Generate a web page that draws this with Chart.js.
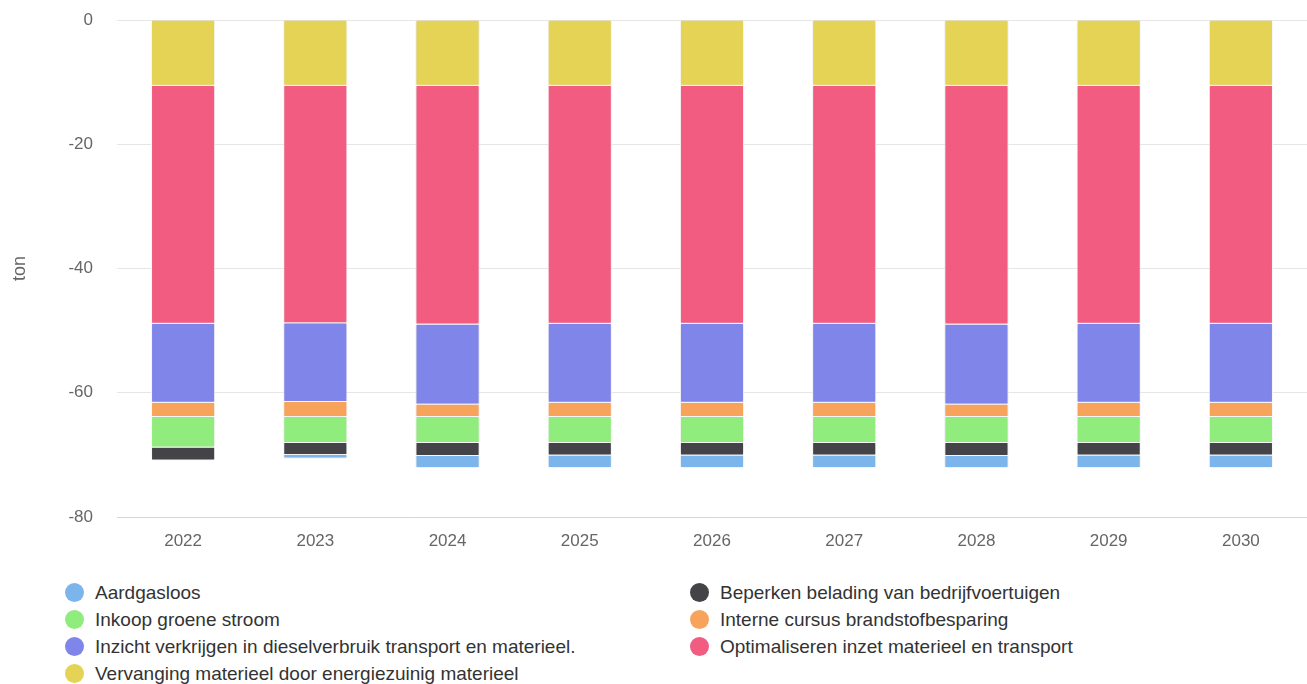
<!DOCTYPE html>
<html>
<head>
<meta charset="utf-8">
<script src="https://cdn.jsdelivr.net/npm/chart.js@4.4.1/dist/chart.umd.min.js"></script>
<style>
  html, body { margin: 0; padding: 0; background: #fff; }
  #wrap { position: relative; width: 1307px; height: 684px; overflow: hidden; }
  #box { position: absolute; left: 0; top: 0; width: 1307px; height: 561px; }
  #legenda { position: absolute; left: 65px; top: 579px; display: grid;
    grid-template-columns: 625px 600px;
    font-family: "Liberation Sans", Arial, sans-serif; font-size: 19px; color: #333; }
  .item { display: flex; align-items: center; height: 27px; white-space: nowrap; }
  .dot { width: 19px; height: 19px; border-radius: 50%; margin-right: 11px; flex: none; }
</style>
</head>
<body>
<div id="wrap">
  <div id="box"><canvas id="grafica"></canvas></div>
  <div id="legenda"></div>
</div>
<script>
const jaren = ['2022', '2023', '2024', '2025', '2026', '2027', '2028', '2029', '2030'];

// ton per maatregel (negatief = reductie)
const vervanging    = [-10.6, -10.6, -10.6, -10.6, -10.6, -10.6, -10.6, -10.6, -10.6];
const optimaliseren = [-38.3, -38.2, -38.4, -38.3, -38.3, -38.3, -38.4, -38.3, -38.3];
const inzicht       = [-12.7, -12.7, -12.9, -12.7, -12.7, -12.7, -12.9, -12.7, -12.7];
const interne       = [-2.3, -2.4, -2.0, -2.3, -2.3, -2.3, -2.0, -2.3, -2.3];
const inkoop        = [-4.9, -4.2, -4.2, -4.2, -4.2, -4.2, -4.2, -4.2, -4.2];
const beperken      = [-2.1, -1.9, -2.1, -2.0, -2.0, -2.0, -2.1, -2.0, -2.0];
const aardgasloos   = [0, -0.6, -1.9, -2.0, -2.0, -2.0, -1.9, -2.0, -2.0];

const yTicks = [0, -20, -40, -60, -80];

const series = [
    { label: 'Vervanging materieel door energiezuinig materieel', data: vervanging, color: '#e4d354' },
    { label: 'Optimaliseren inzet materieel en transport', data: optimaliseren, color: '#f15c80' },
    { label: 'Inzicht verkrijgen in dieselverbruik transport en materieel.', data: inzicht, color: '#8085e9' },
    { label: 'Interne cursus brandstofbesparing', data: interne, color: '#f7a35c' },
    { label: 'Inkoop groene stroom', data: inkoop, color: '#90ed7d' },
    { label: 'Beperken belading van bedrijfvoertuigen', data: beperken, color: '#434348' },
    { label: 'Aardgasloos', data: aardgasloos, color: '#7cb5ec' }
];

// lichte schaduw rond de balken
const schaduw = {
    id: 'schaduw',
    beforeDatasetsDraw: (chart) => {
        const c = chart.ctx;
        c.save();
        c.shadowColor = 'rgba(0,0,0,0.15)';
        c.shadowBlur = 3;
    },
    afterDatasetsDraw: (chart) => { chart.ctx.restore(); }
};

const ctx = document.getElementById('grafica').getContext('2d');

const grafica = new Chart(ctx, {
    type: 'bar',
    data: {
        labels: jaren,
        datasets: series.map(s => ({
            label: s.label,
            data: s.data,
            backgroundColor: s.color,
            borderColor: '#ffffff',
            borderWidth: 1,
            categoryPercentage: 1,
            barPercentage: 0.485
        }))
    },
    options: {
        responsive: true,
        maintainAspectRatio: false,
        animation: false,
        layout: { padding: { top: 20, right: 0, left: 0, bottom: 0 } },
        plugins: { legend: { display: false }, tooltip: { enabled: false } },
        scales: {
            x: {
                stacked: true,
                grid: { display: false, drawTicks: false },
                border: { color: '#ccd6eb' },
                ticks: { color: '#666', padding: 14, font: { family: 'Liberation Sans', size: 17 } },
                afterFit: s => { s.height = 44; s.paddingLeft = 0; s.paddingRight = 0; }
            },
            y: {
                stacked: true,
                min: -80,
                max: 0,
                afterBuildTicks: s => { s.ticks = yTicks.map(v => ({ value: v })); },
                grid: { color: '#e6e6e6', drawTicks: false },
                border: { display: false },
                ticks: { color: '#666', padding: 24, font: { family: 'Liberation Sans', size: 17 } },
                title: { display: true, text: 'ton', color: '#666', padding: { top: 9, bottom: 0 },
                         font: { family: 'Liberation Sans', size: 18 } },
                afterFit: s => { s.width = 117; s.paddingTop = 0; s.paddingBottom = 0; }
            }
        }
    },
    plugins: [schaduw]
});

// legenda: alfabetisch, twee kolommen
const legenda = document.getElementById('legenda');
[...series].sort((a, b) => a.label.localeCompare(b.label)).forEach(s => {
    const item = document.createElement('div');
    item.className = 'item';
    item.innerHTML = `<span class="dot" style="background:${s.color}"></span><span>${s.label}</span>`;
    legenda.appendChild(item);
});
</script>
</body>
</html>
